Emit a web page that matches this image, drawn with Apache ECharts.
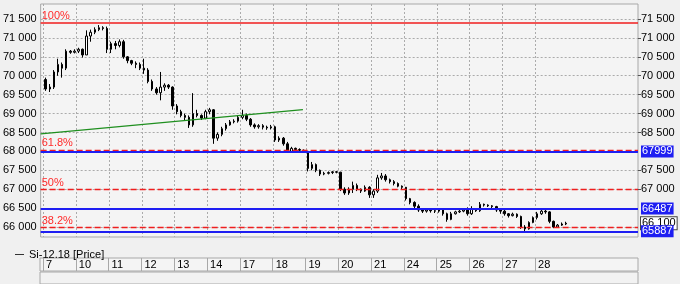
<!DOCTYPE html>
<html><head><meta charset="utf-8">
<script src="https://cdn.jsdelivr.net/npm/echarts@6/dist/echarts.min.js"></script>
<style>html,body{margin:0;padding:0;background:#f0f0f0}#c{width:680px;height:284px}</style>
</head><body><div id="c"></div>
<script>
// ---- data ----
const seriesName = 'Si-12.18 [Price]';
const dayLabels = ['7','10','11','12','13','14','17','18','19','20','21','24','25','26','27','28'];
const candlesPerDay = 8;
const opens = [
 69900,69650,69700,70100,70300,70200,70650,70620,
 70650,70700,70550,71050,71150,71220,71270,71250,
 70700,70850,70800,70900,70500,70400,70330,70300,
 70200,70150,69850,69650,69550,69700,69750,69700,
 69200,69050,68950,68900,68700,69000,68950,68880,
 69050,69100,68350,68450,68600,68700,68780,68800,
 68900,68950,68850,68700,68650,68680,68640,68620,
 68650,68300,68350,68200,68000,68080,68050,68030,
 68000,67550,67650,67500,67400,67420,67440,67460,
 67450,67000,66900,67000,67100,67000,66950,67050,
 66850,66950,67300,67350,67250,67200,67150,67080,
 67050,66750,66650,66550,66450,66420,66450,66430,
 66420,66450,66350,66200,66350,66400,66420,66450,
 66350,66480,66430,66600,66580,66560,66540,66450,
 66420,66350,66300,66340,66280,66000,65950,66120,
 66250,66350,66420,66400,66150,66000,66050,66080];
const closes = [
 69650,69700,70100,70300,70200,70650,70620,70650,
 70700,70550,71050,71150,71220,71270,71250,70700,
 70850,70800,70900,70500,70400,70330,70300,70200,
 70150,69850,69650,69550,69700,69750,69700,69200,
 69050,68950,68900,68700,69000,68950,68880,69050,
 69100,68350,68450,68600,68700,68780,68800,68900,
 68950,68850,68700,68650,68680,68640,68620,68650,
 68300,68350,68200,68000,68080,68050,68030,68000,
 67550,67650,67500,67400,67420,67440,67460,67450,
 67000,66900,67000,67100,67000,66950,67050,66850,
 66950,67300,67350,67250,67200,67150,67080,67050,
 66750,66650,66550,66450,66420,66450,66430,66420,
 66450,66350,66200,66350,66400,66420,66450,66350,
 66480,66430,66600,66580,66560,66540,66450,66420,
 66350,66300,66340,66280,66000,65950,66120,66250,
 66350,66420,66400,66150,66000,66050,66080,66100];
const lows = [
 69600,69570,69650,70000,69950,70150,70580,70590,
 70600,70480,70550,70900,71100,71180,71200,70600,
 70600,70700,70750,70450,70330,70280,70200,70150,
 70050,69800,69600,69500,69350,69600,69650,69100,
 68980,68900,68820,68620,68650,68900,68830,68850,
 68980,68200,68280,68400,68550,68680,68740,68760,
 68850,68800,68650,68600,68600,68580,68570,68580,
 68250,68250,68150,67980,67980,68000,67990,67960,
 67470,67500,67450,67350,67370,67390,67400,67420,
 66950,66850,66850,66900,66950,66900,66930,66770,
 66770,66900,67250,67200,67150,67100,67050,67000,
 66700,66600,66500,66400,66370,66380,66380,66370,
 66380,66300,66140,66180,66330,66370,66390,66300,
 66320,66400,66400,66540,66530,66500,66400,66350,
 66300,66250,66280,66240,65950,65860,65930,66100,
 66200,66320,66350,66100,65970,65980,66030,66050];
const highs = [
 69950,69780,70150,70450,70350,70700,70680,70700,
 70740,70720,71200,71220,71280,71340,71310,71300,
 70900,70920,70960,70950,70520,70420,70380,70350,
 70450,70200,69900,69700,70100,69800,69780,69720,
 69250,69100,69000,68950,69540,69100,68980,69100,
 69150,69120,68500,68650,68750,68830,68850,68950,
 69100,69000,68880,68740,68720,68720,68680,68700,
 68680,68400,68380,68250,68120,68100,68080,68050,
 68010,67720,67680,67520,67460,67470,67480,67480,
 67460,67050,67050,67200,67150,67020,67100,67080,
 67000,67380,67430,67400,67280,67240,67180,67100,
 67060,66770,66680,66600,66500,66480,66480,66470,
 66500,66500,66380,66400,66430,66450,66480,66520,
 66550,66500,66660,66620,66600,66580,66560,66480,
 66450,66370,66380,66360,66300,66050,66150,66280,
 66400,66460,66460,66420,66170,66080,66120,66140];
const priceTicks = [66000,66500,67000,67500,68000,68500,69000,69500,70000,70500,71000,71500];
const rightTicks = [67000,67500,68500,69000,69500,70000,70500,71000,71500];
const fibNames  = ['100%','61.8%','50%','38.2%'];
const fibValues = [71400, 68040, 67000, 65990];
const levelValues = [67999, 66487, 65887];
const lastPrice = 66100;
const trendValues = [68465, 69105];
const trendSlots = [-0.73, 63.3];

// ---- chart ----
const FONT = 'Arial, "Liberation Sans", sans-serif';
const xMin = -0.73, xMax = 145.1;
const dayStarts = dayLabels.map((d, i) => i * candlesPerDay);
const fmt = v => String(v).replace(/\B(?=(\d{3})+(?!\d))/g, ' ');
const candleData = opens.map((o, i) => [i + 0.5, o, closes[i], lows[i], highs[i]]);

const RED = '#f01e1e', BLUE = '#1e1ef2';
const markData = [];
fibNames.forEach((n, i) => {
  const solid = i === 0;
  markData.push({
    yAxis: fibValues[i], name: n,
    lineStyle: {color: RED, width: solid ? 1.5 : 1.3, type: solid ? 'solid' : [6, 3], opacity: 1},
    label: {show: true, position: 'insideStartTop', formatter: n, color: '#ff2a2a',
            fontSize: 11, fontFamily: FONT, distance: 1}
  });
});
markData.push({
  yAxis: lastPrice,
  lineStyle: {width: 1, color: 'rgba(0,0,0,0)'},
  label: {show: true, position: 'end', formatter: fmt(lastPrice), color: '#000',
          backgroundColor: '#fff', borderColor: '#444', borderWidth: 1, padding: [1, 1, 0, 1],
          fontSize: 11, fontFamily: FONT, distance: 3}
});
levelValues.forEach(v => {
  markData.push({
    yAxis: v,
    lineStyle: {color: BLUE, width: 2, type: 'solid'},
    label: {show: true, position: 'end', formatter: String(v), color: '#fff',
            backgroundColor: BLUE, padding: [1, 1, 0, 1], fontSize: 11, fontFamily: FONT, distance: 3}
  });
});
markData.push([
  {coord: [trendSlots[0], trendValues[0]], lineStyle: {color: '#1f8f1f', width: 1.3, type: 'solid'}, label: {show: false}},
  {coord: [trendSlots[1], trendValues[1]]}
]);

const chart = echarts.init(document.getElementById('c'), null, {renderer: 'canvas'});
chart.setOption({
  animation: false,
  backgroundColor: '#f0f0f0',
  textStyle: {fontFamily: FONT},
  legend: {
    data: [seriesName], left: 10, top: 244, icon: 'rect', itemWidth: 9, itemHeight: 1,
    textStyle: {fontSize: 11, color: '#000', fontFamily: FONT},
    itemStyle: {color: '#333', borderWidth: 0}, selectedMode: false
  },
  grid: [
    {left: 40, right: 42, top: 4, height: 233, show: true, backgroundColor: '#f4f4f4', borderColor: '#a8a8a8', borderWidth: 1},
    {left: 40, right: 42, top: 258, height: 13, show: true, backgroundColor: '#f4f4f4', borderColor: '#a8a8a8', borderWidth: 1},
    {left: 40, right: 42, top: 272, height: 30, show: true, backgroundColor: '#f2f2f2', borderColor: '#a8a8a8', borderWidth: 1}
  ],
  xAxis: [
    {type: 'value', gridIndex: 0, min: xMin, max: xMax,
     axisLine: {show: false}, axisLabel: {show: false},
     axisTick: {show: false, customValues: dayStarts},
     splitLine: {show: true, lineStyle: {color: '#ababab', type: [2, 2], width: 1}}},
    {type: 'value', gridIndex: 1, min: xMin, max: xMax, position: 'top',
     axisLine: {show: false},
     axisTick: {show: false, customValues: dayStarts},
     axisLabel: {show: true, inside: true, customValues: dayStarts, margin: 0,
                 formatter: v => dayLabels[Math.round(v / candlesPerDay)],
                 align: 'left', verticalAlign: 'top', padding: [1, 0, 0, 3],
                 color: '#000', fontSize: 11, fontFamily: FONT},
     splitLine: {show: true, lineStyle: {color: '#a8a8a8', width: 1}}},
    {type: 'value', gridIndex: 2, min: 0, max: 1, show: false}
  ],
  yAxis: [
    {type: 'value', gridIndex: 0, min: 65736, max: 71897, position: 'left',
     axisLine: {show: false},
     axisTick: {show: false, customValues: priceTicks},
     axisLabel: {customValues: priceTicks, formatter: fmt, color: '#000', fontSize: 11, fontFamily: FONT, margin: 4},
     splitLine: {show: true, lineStyle: {color: '#ababab', type: [2, 2], width: 1}}},
    {type: 'value', gridIndex: 0, min: 65736, max: 71897, position: 'right',
     axisLine: {show: false},
     axisTick: {show: true, length: 3, customValues: rightTicks, lineStyle: {color: '#555'}},
     axisLabel: {customValues: rightTicks, formatter: fmt, color: '#000', fontSize: 11, fontFamily: FONT, margin: 3},
     splitLine: {show: false}},
    {type: 'value', gridIndex: 1, min: 0, max: 1, show: false},
    {type: 'value', gridIndex: 2, min: 0, max: 1, show: false}
  ],
  series: [{
    name: seriesName, type: 'candlestick', xAxisIndex: 0, yAxisIndex: 0,
    data: candleData, encode: {x: 0, y: [1, 2, 3, 4]},
    barWidth: 2,
    itemStyle: {color: '#ffffff', color0: '#000000', borderColor: '#000000', borderColor0: '#000000', borderWidth: 1},
    markLine: {silent: true, symbol: 'none', animation: false, data: markData}
  }]
});
</script></body></html>
